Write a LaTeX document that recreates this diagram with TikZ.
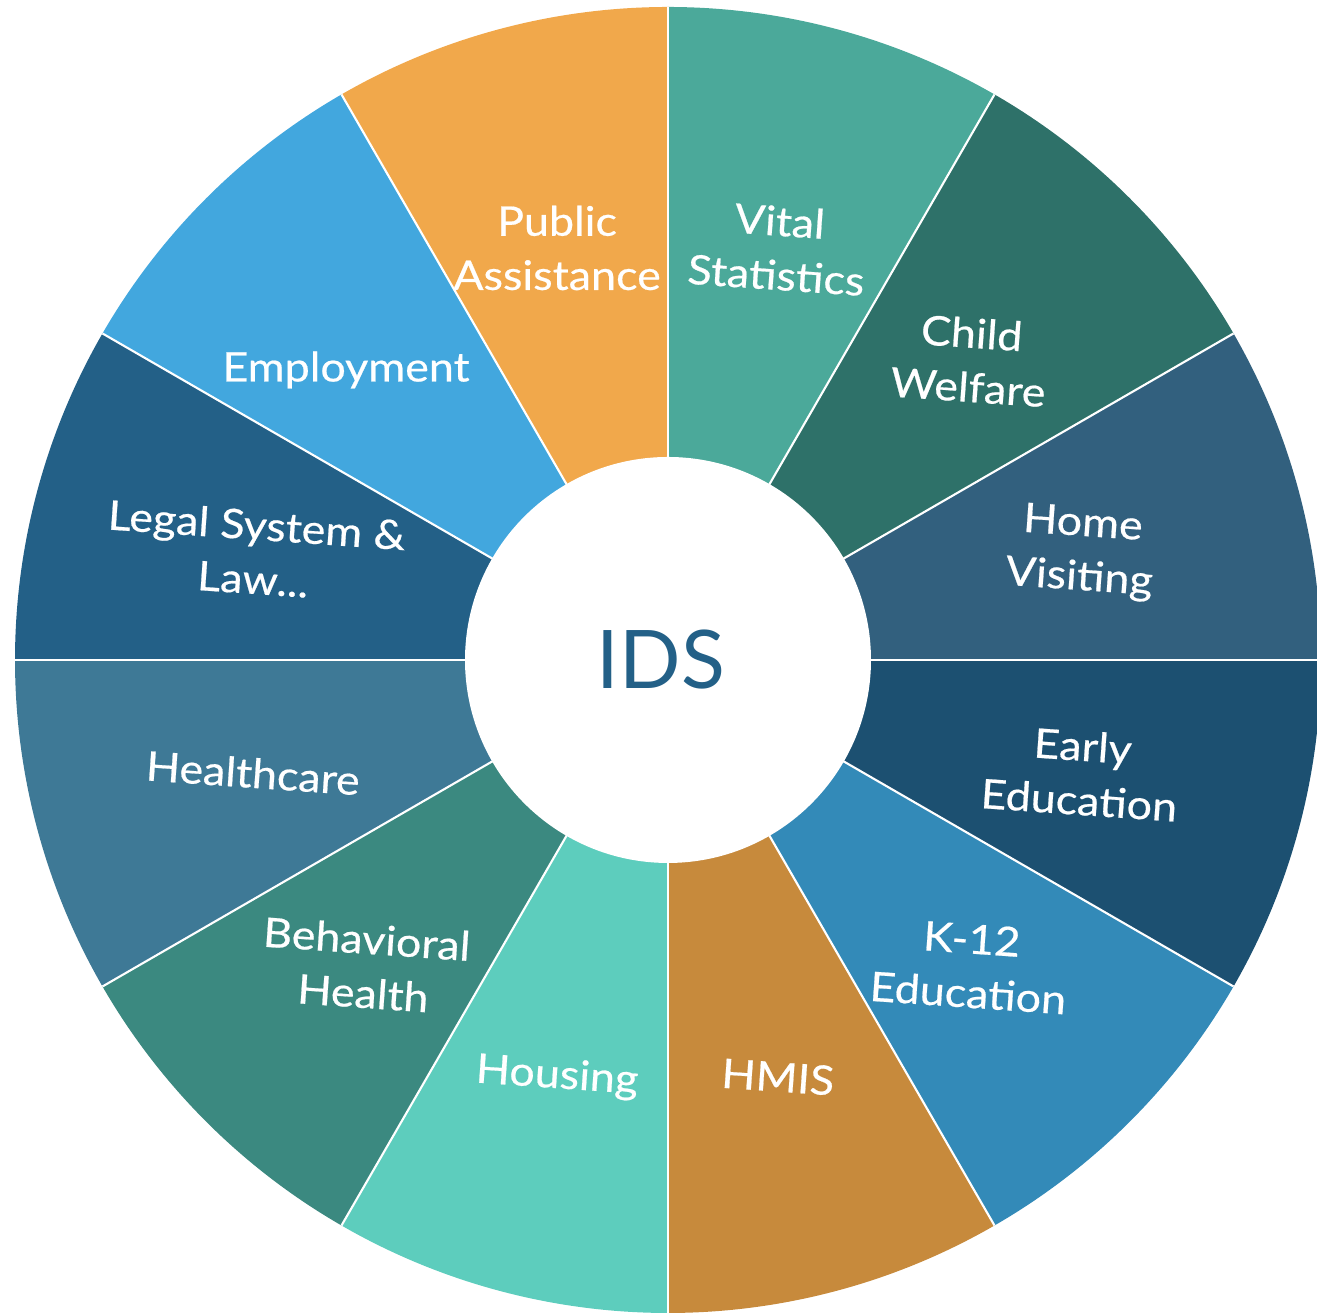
\documentclass[tikz,border=0pt]{standalone}
\usepackage{fontspec}
\setmainfont{Lato}
\newfontfamily\lblfont[FakeStretch=1.1,FakeBold=0.5]{Lato}
\definecolor{cHome}{HTML}{32607E}
\definecolor{cChild}{HTML}{2E7169}
\definecolor{cVital}{HTML}{4BA99A}
\definecolor{cPublic}{HTML}{F1A84B}
\definecolor{cEmploy}{HTML}{42A7DE}
\definecolor{cLegal}{HTML}{236087}
\definecolor{cHealth}{HTML}{3E7996}
\definecolor{cBehav}{HTML}{3B8980}
\definecolor{cHousing}{HTML}{5DCDBD}
\definecolor{cHMIS}{HTML}{C78A3C}
\definecolor{cKtwelve}{HTML}{338AB8}
\definecolor{cEarly}{HTML}{1C5071}
\begin{document}
\begin{tikzpicture}[x=0.01cm,y=0.01cm,
  label/.style={text=white,align=center,font=\lblfont\fontsize{11.6}{15.4}\selectfont,inner sep=0pt}]
\useasboundingbox (0,0) rectangle (1317,1313);
\clip (0,0) rectangle (1317,1313);
\coordinate (C) at (668,653);
% twelve sectors of thirty degrees, counter-clockwise from the east
\foreach \c [count=\i from 0] in {cHome,cChild,cVital,cPublic,cEmploy,cLegal,cHealth,cBehav,cHousing,cHMIS,cKtwelve,cEarly}{
  \pgfmathsetmacro{\a}{30*\i}
  \pgfmathsetmacro{\b}{30*\i+30}
  \fill[\c] (C) -- ++(\a:653) arc[start angle=\a, end angle=\b, radius=653] -- cycle;
}
\foreach \i in {0,...,11}{
  \draw[white,line width=0.6pt] (C) -- ++(30*\i:653);
}
% hub
\fill[white] (C) circle[radius=203];
\node[text={cLegal},font=\fontsize{23}{23}\selectfont,inner sep=0pt] (ids) at (661,653) {IDS};
% sector labels
\node[label] (public) at (557,1065) {Public\\Assistance};
\node[label,rotate=-4] (vital) at (778,1065) {Vital\\Statistics};
\node[label,rotate=-4] (child) at (970,953) {Child\\Welfare};
\node[label,rotate=-4] (home) at (1081,761) {Home\\Visiting};
\node[label,rotate=-4] (early) at (1081,540) {Early\\Education};
\node[label,rotate=-4] (k12) at (970,347) {K-12\\Education};
\node[label,rotate=-4] (hmis) at (778,236) {HMIS};
\node[label,rotate=-4] (housing) at (557,236) {Housing};
\node[label,rotate=-4] (behav) at (365,347) {Behavioral\\Health};
\node[label,rotate=-4] (health) at (253,540) {Healthcare};
\node[label,rotate=-4] (legal) at (255,761) {Legal System \&\\Law...};
\node[label] (employ) at (346,943) {Employment};
\end{tikzpicture}
\end{document}
